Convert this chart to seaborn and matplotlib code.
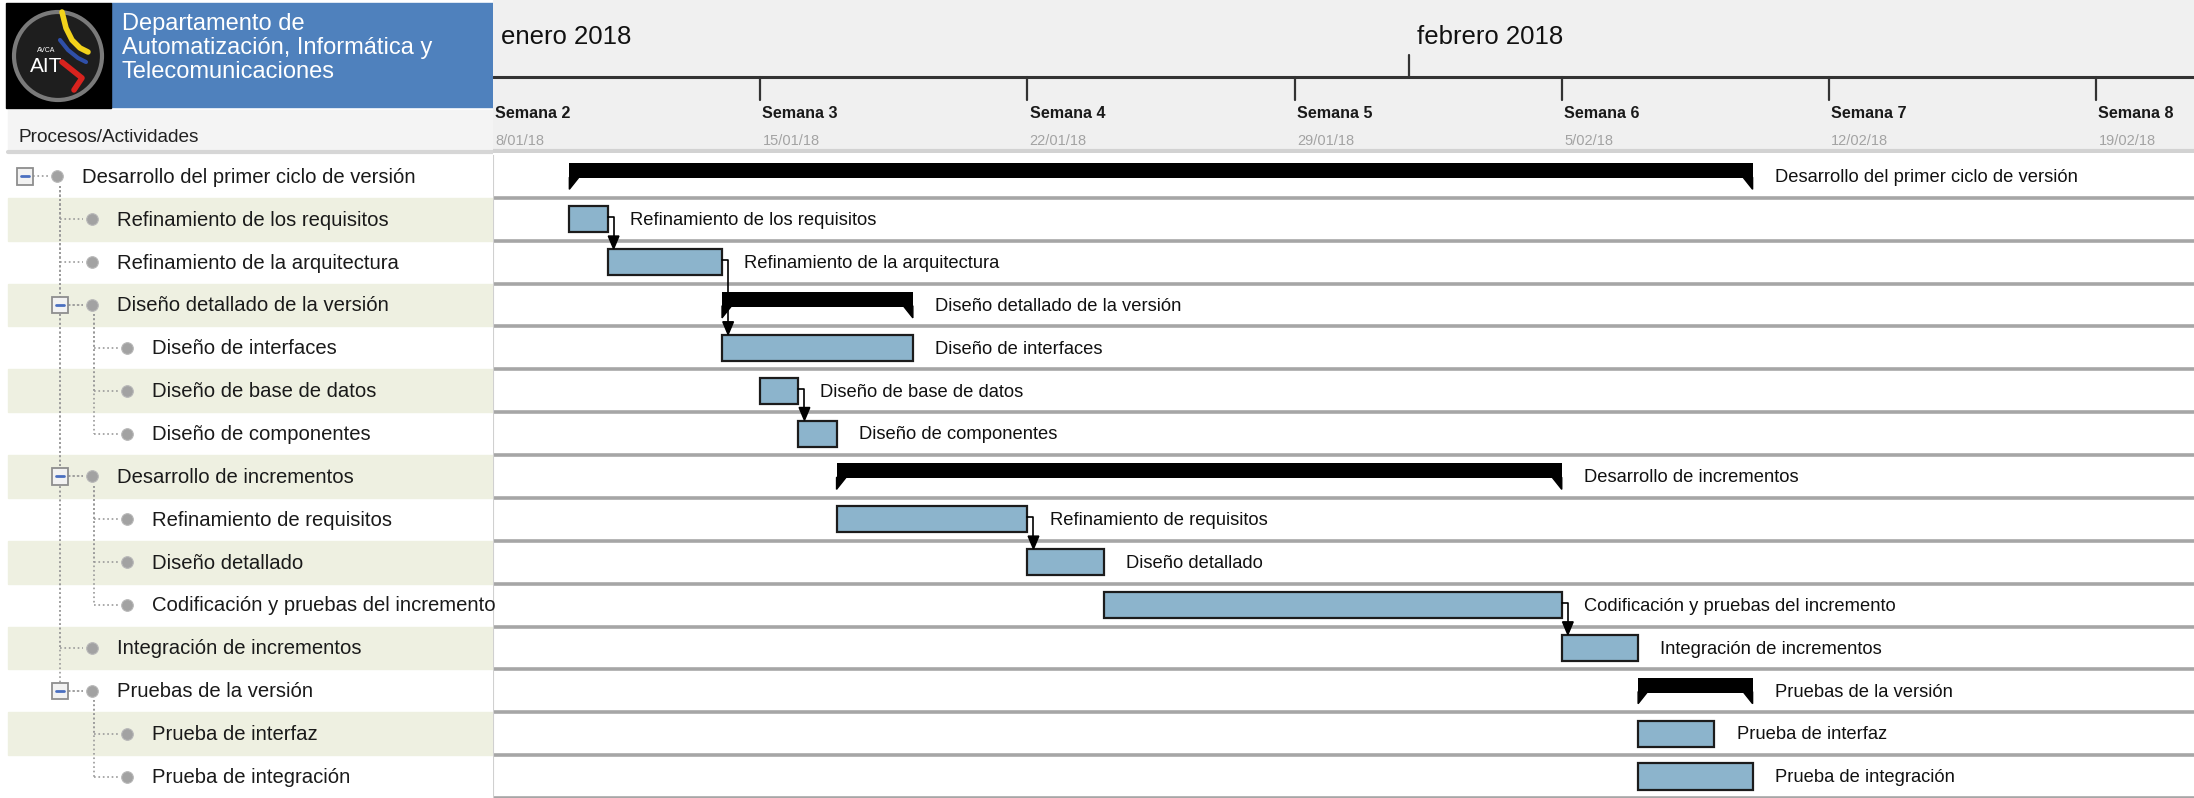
import matplotlib
matplotlib.use("Agg")
import matplotlib.pyplot as plt
from matplotlib.patches import Rectangle, Polygon, Circle
import pandas as pd
import seaborn as sns

# ---- data ----
tasks = [
    "Desarrollo del primer ciclo de versión",
    "Refinamiento de los requisitos",
    "Refinamiento de la arquitectura",
    "Diseño detallado de la versión",
    "Diseño de interfaces",
    "Diseño de base de datos",
    "Diseño de componentes",
    "Desarrollo de incrementos",
    "Refinamiento de requisitos",
    "Diseño detallado",
    "Codificación y pruebas del incremento",
    "Integración de incrementos",
    "Pruebas de la versión",
    "Prueba de interfaz",
    "Prueba de integración",
]
levels = [0, 1, 1, 1, 2, 2, 2, 1, 2, 2, 2, 1, 1, 2, 2]
is_summary = [True, False, False, True, False, False, False, True,
              False, False, False, False, True, False, False]
starts = ["2018-01-10", "2018-01-10", "2018-01-11", "2018-01-14", "2018-01-14",
          "2018-01-15", "2018-01-16", "2018-01-17", "2018-01-17", "2018-01-22",
          "2018-01-24", "2018-02-05", "2018-02-07", "2018-02-07", "2018-02-07"]
ends = ["2018-02-10", "2018-01-11", "2018-01-14", "2018-01-19", "2018-01-19",
        "2018-01-16", "2018-01-17", "2018-02-05", "2018-01-22", "2018-01-24",
        "2018-02-05", "2018-02-07", "2018-02-10", "2018-02-09", "2018-02-10"]
links = [(1, 2), (2, 4), (5, 6), (8, 9), (10, 11)]

week_names = ["Semana 2", "Semana 3", "Semana 4", "Semana 5", "Semana 6", "Semana 7", "Semana 8"]
week_starts = ["2018-01-08", "2018-01-15", "2018-01-22", "2018-01-29",
               "2018-02-05", "2018-02-12", "2018-02-19"]
week_labels = ["8/01/18", "15/01/18", "22/01/18", "29/01/18", "5/02/18", "12/02/18", "19/02/18"]
month_names = ["enero 2018", "febrero 2018"]
month_starts = ["2018-01-01", "2018-02-01"]

header_title = "Departamento de\nAutomatización, Informática y\nTelecomunicaciones"

# ---- setup ----
sns.set_theme(style="white")
plt.rcParams["font.family"] = ["Liberation Sans", "DejaVu Sans"]

W, H = 2194, 798
t0 = pd.Timestamp(week_starts[0])
df = pd.DataFrame({"task": tasks, "level": levels, "summary": is_summary,
                   "start": pd.to_datetime(starts), "end": pd.to_datetime(ends)})
df["s"] = (df["start"] - t0).dt.days
df["e"] = (df["end"] - t0).dt.days
df["row"] = range(len(df))
px_day = 38.17
xmax = (W - 493) / px_day


def box(x0, y0, x1, y1):
    # pixel box (top-left origin) -> figure fraction
    return [x0 / W, 1 - y1 / H, (x1 - x0) / W, (y1 - y0) / H]


fig = plt.figure(figsize=(W / 100, H / 100), dpi=100)
fig.patch.set_facecolor("white")

# ---- gantt area ----
ax = fig.add_axes(box(493, 155, W, H))
ax.set_xlim(0, xmax)
ax.set_ylim(len(df) - 0.5, -0.5)
ax.axis("off")

for k in range(len(df)):
    ax.axhline(k + 0.5, color="#a6a6a6", lw=2.6, zorder=1)
ax.axvline(0, color="#d0d0d0", lw=1.5)

tasks_df = df[~df["summary"]]
ax.barh(tasks_df["row"], tasks_df["e"] - tasks_df["s"], left=tasks_df["s"], height=0.61,
        color="#8cb4cc", edgecolor="#1c1c1c", lw=1.6, zorder=3)

sum_df = df[df["summary"]]
ax.barh(sum_df["row"] - 0.135, sum_df["e"] - sum_df["s"], left=sum_df["s"], height=0.35,
        color="black", lw=0, zorder=3)
for _, r in sum_df.iterrows():
    y = r["row"] + 0.04
    ax.add_patch(Polygon([(r["s"], y - 0.02), (r["s"] + 0.25, y - 0.02), (r["s"], y + 0.26)],
                         color="black", zorder=3))
    ax.add_patch(Polygon([(r["e"], y - 0.02), (r["e"] - 0.25, y - 0.02), (r["e"], y + 0.26)],
                         color="black", zorder=3))

for _, r in df.iterrows():
    ax.text(r["e"] + 0.58, r["row"] + 0.03, r["task"], va="center", ha="left",
            fontsize=13.2, color="#111111", zorder=4)

# dependency connectors
for a, b in links:
    xa = df.loc[a, "e"]
    ya = df.loc[a, "row"] - 0.05
    yb = df.loc[b, "row"] - 0.31
    ax.plot([xa, xa + 0.16, xa + 0.16], [ya, ya, yb - 0.28], color="black", lw=1.2, zorder=5)
    ax.add_patch(Polygon([(xa + 0.02, yb - 0.3), (xa + 0.30, yb - 0.3), (xa + 0.16, yb)],
                         color="black", zorder=5))

# ---- timeline header ----
hx = fig.add_axes(box(493, 0, W, 153))
hx.set_xlim(0, xmax)
hx.set_ylim(153, 0)
hx.axis("off")
hx.add_patch(Rectangle((0, 0), xmax, 153, color="#f0f0f0", zorder=0))
hx.axhline(77, color="#333333", lw=2.2)
hx.axhline(151, color="#d2d2d2", lw=3)
for name, d in zip(month_names, month_starts):
    md = (pd.Timestamp(d) - t0).days
    if md > 0:
        hx.plot([md, md], [55, 77], color="#333333", lw=1.6)
    hx.text(max(md, 0) + 0.22, 37, name, fontsize=18.5, va="center", ha="left", color="#111111")
for name, d, lab in zip(week_names, week_starts, week_labels):
    wd = (pd.Timestamp(d) - t0).days
    if wd > 0:
        hx.plot([wd, wd], [77, 100], color="#333333", lw=1.6)
    hx.text(wd + 0.06, 114, name, fontsize=11.6, fontweight="bold", va="center", color="#1a1a1a")
    hx.text(wd + 0.06, 141, lab, fontsize=10.5, va="center", color="#a3a3a3")

# ---- left header ----
lh = fig.add_axes(box(0, 0, 493, 155))
lh.set_xlim(0, 493)
lh.set_ylim(155, 0)
lh.axis("off")
lh.add_patch(Rectangle((8, 110), 485, 42, color="#f4f4f4", zorder=0))
lh.plot([8, 493], [152, 152], color="#d6d6d6", lw=3)
lh.text(18, 137, "Procesos/Actividades", fontsize=13.7, va="center", color="#222222")
lh.add_patch(Rectangle((111, 3), 382, 104, color="#4f81bd", zorder=1))
lh.text(122, 48, header_title, fontsize=17, color="white", va="center", ha="left",
        linespacing=1.12, zorder=2)
# logo
lh.add_patch(Rectangle((6, 3), 105, 105, color="black", zorder=1))
lh.add_patch(Circle((58, 56), 44, facecolor="#1e1e1e", edgecolor="#7a7a7a", lw=3, zorder=2))
lh.plot([62, 66, 72, 80, 88], [12, 28, 40, 48, 52], color="#f2d21b", lw=4, zorder=3)
lh.plot([60, 68, 78, 86], [40, 50, 58, 62], color="#2f4fa8", lw=3, zorder=3)
lh.plot([62, 72, 82, 74], [62, 70, 78, 90], color="#d8231e", lw=4, zorder=3)
lh.text(46, 66, "AIT", fontsize=15, color="white", ha="center", va="center", zorder=4)
lh.text(46, 50, "AVCA", fontsize=5, color="white", ha="center", va="center", zorder=4)

# ---- left tree ----
lx = fig.add_axes(box(0, 155, 493, H))
for r in df["row"]:
    if r % 2 == 1:
        lx.add_patch(Rectangle((8, r - 0.5), 485, 1, color="#eef0e1", zorder=0))

dot_x = [57 + 35 * L for L in levels]
vline_x = [60 + 34 * L for L in range(3)]
for r, L in enumerate(levels):
    if L > 0:
        parent = max(i for i in range(r) if levels[i] == L - 1)
        lx.plot([vline_x[L - 1], dot_x[r] - 9], [r, r], color="#9a9a9a", lw=1.2, ls=":", zorder=1)
        lx.plot([vline_x[L - 1], vline_x[L - 1]], [parent + 0.22, r], color="#9a9a9a",
                lw=1.2, ls=":", zorder=1)
    if is_summary[r]:
        bx = dot_x[r] - 32 if L == 0 else vline_x[L - 1]
        lx.add_patch(Rectangle((bx - 8, r - 0.19), 16, 0.38, facecolor="#f2f2f2",
                               edgecolor="#8e8e8e", lw=1.3, zorder=3))
        lx.plot([bx - 4, bx + 4], [r, r], color="#4a6fc0", lw=2, zorder=4)
        lx.plot([bx + 8, dot_x[r] - 8], [r, r], color="#9a9a9a", lw=1.2, ls=":", zorder=1)
sns.scatterplot(x=dot_x, y=df["row"], ax=lx, s=70, color="#a2a2a2", edgecolor="#b8b8b8",
                linewidth=0.8, zorder=5, legend=False)
lx.set_xlim(0, 493)
lx.set_ylim(len(df) - 0.5, -0.5)
lx.axis("off")
for r, (t, L) in enumerate(zip(tasks, levels)):
    lx.text(dot_x[r] + 25, r + 0.02, t, fontsize=14.6, va="center", ha="left", color="#1a1a1a")

fig.savefig("out.png", dpi=100)
